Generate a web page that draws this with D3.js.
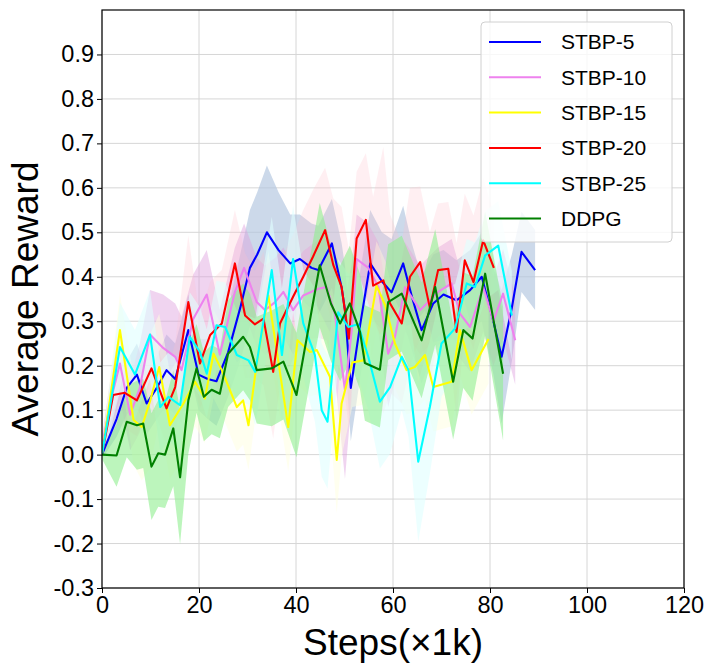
<!DOCTYPE html>
<html>
<head>
<meta charset="utf-8">
<script src="https://cdn.jsdelivr.net/npm/d3@7"></script>
<style>
  body { margin: 0; background: #fff; }
  svg { font-family: "Liberation Sans", Arial, sans-serif; }
</style>
</head>
<body>
<svg id="chart" width="714" height="669"></svg>
<script>
// data (steps in k, mean reward, half-width of the band)
const blueSteps = [0,3.0,5.1,7.2,9.2,11.3,13.3,15.1,17.8,19.9,21.8,23.6,26.0,28.5,30.5,32.0,34.0,36.4,38.8,40.8,43.2,44.6,47.4,49.4,50.1,51.3,53.2,55.3,57.7,59.7,62.1,63.9,65.9,68.3,70.4,73.1,75.9,78.3,80.7,82.4,84.5,86.5,89.3];
const blueMean = [0,0.08,0.15,0.18,0.115,0.15,0.19,0.17,0.28,0.18,0.17,0.165,0.23,0.33,0.42,0.45,0.50,0.46,0.43,0.44,0.42,0.415,0.475,0.376,0.325,0.15,0.29,0.43,0.39,0.365,0.43,0.355,0.28,0.34,0.36,0.347,0.37,0.40,0.30,0.22,0.33,0.456,0.415];
const blueSpread = [0.01,0.04,0.06,0.07,0.07,0.07,0.08,0.08,0.08,0.08,0.09,0.1,0.1,0.12,0.13,0.14,0.15,0.13,0.11,0.1,0.1,0.1,0.1,0.1,0.1,0.12,0.12,0.12,0.11,0.12,0.13,0.12,0.12,0.11,0.1,0.09,0.09,0.1,0.12,0.15,0.12,0.09,0.09];

const violetSteps = [0,2.0,3.7,5.8,7.8,9.9,12.6,15.1,16.4,18.8,21.6,24.3,27.4,29.3,31.9,33.6,35.7,37.4,39.4,41.5,44.6,46.3,48.0,50.1,51.5,52.5,54.9,57.0,59.0,60.4,62.5,65.6,67.6,69.3,72.1,73.8,75.9,78.6,80.7,82.7,85.2];
const violetMean = [0.02,0.13,0.205,0.09,0.15,0.27,0.24,0.22,0.19,0.305,0.36,0.225,0.366,0.42,0.343,0.325,0.343,0.366,0.325,0.358,0.373,0.377,0.317,0.145,0.28,0.44,0.42,0.377,0.227,0.265,0.377,0.325,0.347,0.366,0.385,0.317,0.287,0.377,0.30,0.362,0.257];
const violetSpread = [0.02,0.06,0.08,0.08,0.1,0.1,0.12,0.12,0.12,0.1,0.1,0.1,0.1,0.1,0.1,0.1,0.1,0.1,0.1,0.1,0.11,0.12,0.14,0.2,0.15,0.1,0.1,0.1,0.12,0.1,0.1,0.1,0.1,0.1,0.1,0.1,0.1,0.1,0.1,0.1,0.1];

const yellowSteps = [0,3.7,6.5,8.2,9.9,11.8,14.0,16.8,19.2,21.2,23.0,24.7,27.8,29.1,30.2,31.9,34.3,38.4,40.3,42.9,44.3,47.0,48.4,49.4,51.6,53.9,56.6,58.4,60.4,62.8,64.5,66.6,68.3,72.1,73.8,76.2,79.7];
const yellowMean = [0.0,0.28,0.078,0.062,0.12,0.197,0.066,0.115,0.164,0.126,0.227,0.19,0.107,0.122,0.066,0.205,0.358,0.062,0.257,0.231,0.235,0.175,-0.012,0.115,0.207,0.212,0.38,0.336,0.25,0.19,0.197,0.224,0.152,0.164,0.28,0.19,0.26];
const yellowSpread = [0.02,0.08,0.1,0.12,0.15,0.12,0.12,0.12,0.1,0.1,0.1,0.1,0.1,0.1,0.1,0.1,0.1,0.1,0.1,0.1,0.1,0.1,0.12,0.12,0.1,0.1,0.1,0.1,0.1,0.1,0.1,0.1,0.1,0.1,0.1,0.1,0.1];

const redSteps = [0,2.3,4.7,7.2,10.2,13.3,15.1,17.8,20.2,22.3,24.7,27.4,29.5,31.5,33.3,35.3,36.7,39.4,41.5,43.5,46.0,47.7,49.4,50.9,52.5,54.4,55.9,58.0,59.4,61.8,63.5,65.6,67.6,69.3,71.4,73.1,74.8,76.6,78.6,80.8];
const redMean = [0,0.134,0.139,0.122,0.194,0.104,0.152,0.343,0.205,0.269,0.295,0.43,0.313,0.293,0.306,0.186,0.295,0.355,0.40,0.445,0.505,0.426,0.377,0.261,0.486,0.528,0.38,0.392,0.34,0.295,0.40,0.433,0.33,0.415,0.418,0.276,0.437,0.388,0.482,0.42];
const redSpread = [0.01,0.06,0.08,0.08,0.08,0.08,0.1,0.15,0.1,0.12,0.12,0.12,0.14,0.12,0.15,0.15,0.14,0.14,0.15,0.15,0.14,0.15,0.18,0.2,0.15,0.15,0.2,0.3,0.2,0.18,0.2,0.17,0.17,0.15,0.15,0.2,0.15,0.15,0.14,0.12];

const cyanSteps = [0,3.7,6.8,9.9,12.0,13.7,16.1,18.1,20.2,21.6,23.6,25.4,27.8,30.2,31.6,35.0,37.1,39.4,41.5,43.9,45.3,46.5,48.7,50.8,52.8,54.9,57.3,59.4,61.8,63.2,65.2,67.6,70.0,72.8,75.2,76.9,79.0,81.7,84.5];
const cyanMean = [0,0.242,0.18,0.27,0.107,0.13,0.111,0.265,0.231,0.182,0.291,0.287,0.224,0.212,0.186,0.415,0.224,0.44,0.295,0.224,0.10,0.074,0.32,0.287,0.293,0.22,0.119,0.152,0.22,0.19,-0.016,0.107,0.25,0.284,0.385,0.377,0.448,0.47,0.313];
const cyanSpread = [0.02,0.1,0.1,0.1,0.1,0.1,0.1,0.1,0.1,0.1,0.1,0.1,0.1,0.1,0.12,0.12,0.15,0.12,0.12,0.15,0.15,0.15,0.12,0.12,0.12,0.12,0.15,0.15,0.12,0.15,0.18,0.15,0.12,0.1,0.1,0.1,0.1,0.1,0.1];

const greenSteps = [0,3.0,5.1,7.2,8.5,10.2,11.6,13.0,14.7,16.1,17.8,19.5,21.0,22.6,24.3,26.0,29.1,30.5,31.9,35.0,37.4,40.1,44.9,47.2,49.1,51.1,53.2,54.2,57.3,59.0,61.8,65.9,68.7,72.4,74.5,76.4,79.0,82.7];
const greenMean = [0,-0.002,0.074,0.066,0.07,-0.027,0.003,0.0,0.059,-0.051,0.122,0.194,0.13,0.146,0.137,0.227,0.265,0.242,0.19,0.194,0.209,0.134,0.426,0.34,0.295,0.34,0.276,0.206,0.191,0.343,0.362,0.257,0.377,0.164,0.28,0.261,0.407,0.182];
const greenSpread = [0.01,0.07,0.08,0.1,0.1,0.12,0.12,0.12,0.13,0.15,0.12,0.1,0.1,0.1,0.1,0.12,0.12,0.12,0.12,0.13,0.13,0.14,0.14,0.13,0.13,0.13,0.13,0.13,0.13,0.13,0.13,0.13,0.13,0.13,0.13,0.14,0.14,0.15];

const seriesNames = ["STBP-5", "STBP-10", "STBP-15", "STBP-20", "STBP-25", "DDPG"];
const xTicks = [0, 20, 40, 60, 80, 100, 120];
const yTicks = [-0.3, -0.2, -0.1, 0.0, 0.1, 0.2, 0.3, 0.4, 0.5, 0.6, 0.7, 0.8, 0.9];

// styles
const lineColors = ["blue", "violet", "yellow", "red", "cyan", "green"];
const bandColors = ["lightsteelblue", "plum", "lightyellow", "pink", "lightcyan", "lightgreen"];
const bandOpacity = [0.65, 0.45, 0.5, 0.25, 0.6, 0.6];

const series = [
  [blueSteps, blueMean, blueSpread],
  [violetSteps, violetMean, violetSpread],
  [yellowSteps, yellowMean, yellowSpread],
  [redSteps, redMean, redSpread],
  [cyanSteps, cyanMean, cyanSpread],
  [greenSteps, greenMean, greenSpread],
].map((s, i) => ({
  name: seriesNames[i],
  pts: s[0].map((x, j) => ({ x: x, y: s[1][j], sd: s[2][j] }))
}));

const margin = { left: 102, top: 10, right: 30, bottom: 81 };
const width = 714, height = 669;

const svg = d3.select("#chart");
const xScale = d3.scaleLinear().domain([0, 120]).range([margin.left, width - margin.right]);
const yScale = d3.scaleLinear().domain([-0.3, 1.0]).range([height - margin.bottom, margin.top]);

// grid
svg.append("g").selectAll("line").data(xTicks).join("line")
  .attr("x1", d => xScale(d)).attr("x2", d => xScale(d))
  .attr("y1", yScale(-0.3)).attr("y2", yScale(1.0))
  .attr("stroke", "#d6d6d6").attr("stroke-width", 1);
svg.append("g").selectAll("line").data(yTicks).join("line")
  .attr("x1", xScale(0)).attr("x2", xScale(120))
  .attr("y1", d => yScale(d)).attr("y2", d => yScale(d))
  .attr("stroke", "#d6d6d6").attr("stroke-width", 1);

svg.append("clipPath").attr("id", "plotclip").append("rect")
  .attr("x", xScale(0)).attr("y", yScale(1.0))
  .attr("width", xScale(120) - xScale(0)).attr("height", yScale(-0.3) - yScale(1.0));

const plot = svg.append("g").attr("clip-path", "url(#plotclip)");

// bands first, then lines on top
const area = d3.area()
  .x(d => xScale(d.x))
  .y0(d => yScale(d.y - d.sd))
  .y1(d => yScale(d.y + d.sd));
plot.append("g").selectAll("path").data(series).join("path")
  .attr("d", d => area(d.pts))
  .attr("fill", (d, i) => bandColors[i])
  .attr("fill-opacity", (d, i) => bandOpacity[i])
  .attr("stroke", "none");

const line = d3.line().x(d => xScale(d.x)).y(d => yScale(d.y));
plot.append("g").selectAll("path").data(series).join("path")
  .attr("d", d => line(d.pts))
  .attr("fill", "none")
  .attr("stroke", (d, i) => lineColors[i])
  .attr("stroke-width", 2.1)
  .attr("stroke-linejoin", "round");

// axes
const axisX = svg.append("g")
  .attr("transform", "translate(0," + yScale(-0.3) + ")")
  .call(d3.axisBottom(xScale).tickValues(xTicks).tickSize(5).tickPadding(3).tickFormat(d => d));
const axisY = svg.append("g")
  .attr("transform", "translate(" + xScale(0) + ",0)")
  .call(d3.axisLeft(yScale).tickValues(yTicks).tickSize(5).tickPadding(3).tickFormat(d => d.toFixed(1)));
[axisX, axisY].forEach(a => {
  a.select(".domain").remove();
  a.selectAll("text").attr("font-size", 23.5).attr("fill", "#000")
    .attr("font-family", "'Liberation Sans', Arial, sans-serif");
  a.selectAll("line").attr("stroke", "#000");
});

// frame
svg.append("rect")
  .attr("x", xScale(0)).attr("y", yScale(1.0))
  .attr("width", xScale(120) - xScale(0)).attr("height", yScale(-0.3) - yScale(1.0))
  .attr("fill", "none").attr("stroke", "#000").attr("stroke-width", 1.2);

// axis titles
svg.append("text")
  .attr("x", (xScale(0) + xScale(120)) / 2).attr("y", 655)
  .attr("text-anchor", "middle").attr("font-size", 37)
  .text("Steps(×1k)");
svg.append("text")
  .attr("transform", "translate(38," + (yScale(-0.3) + yScale(1.0)) / 2 + ") rotate(-90)")
  .attr("text-anchor", "middle").attr("font-size", 37)
  .text("Average Reward");

// legend
const legend = svg.append("g");
legend.append("rect")
  .attr("x", 481).attr("y", 22).attr("width", 191).attr("height", 220).attr("rx", 4)
  .attr("fill", "#fff").attr("fill-opacity", 0.8)
  .attr("stroke", "#d0d0d0").attr("stroke-width", 1);
const rows = legend.selectAll("g.row").data(seriesNames).join("g")
  .attr("class", "row")
  .attr("transform", (d, i) => "translate(489," + (42 + i * 35.3) + ")");
rows.append("line").attr("x1", 0).attr("x2", 52).attr("y1", 0).attr("y2", 0)
  .attr("stroke", (d, i) => lineColors[i]).attr("stroke-width", 2);
rows.append("text").attr("x", 72).attr("y", 0).attr("dy", "0.35em")
  .attr("font-size", 21).text(d => d);
</script>
</body>
</html>
